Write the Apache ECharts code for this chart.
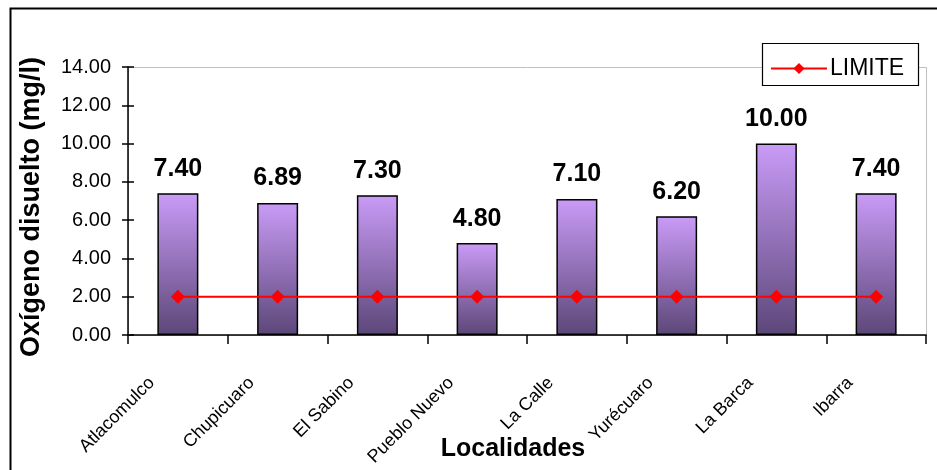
<!DOCTYPE html>
<html><head><meta charset="utf-8">
<script src="https://cdn.jsdelivr.net/npm/echarts@6/dist/echarts.min.js"></script>
<style>html,body{margin:0;padding:0;background:#fff}#c{width:937px;height:470px}</style>
</head><body><div id="c"></div>
<script>
const categories = ["Atlacomulco","Chupicuaro","El Sabino","Pueblo Nuevo","La Calle","Yurécuaro","La Barca","Ibarra"];
const oxygenValues = [7.40, 6.89, 7.30, 4.80, 7.10, 6.20, 10.00, 7.40];
const limitValues = [2, 2, 2, 2, 2, 2, 2, 2];
const yTicks = [0, 2, 4, 6, 8, 10, 12, 14];

const chart = echarts.init(document.getElementById('c'), null, {renderer:'canvas'});
const FONT = 'Liberation Sans, Arial, sans-serif';
chart.setOption({
  animation: false,
  backgroundColor: '#fff',
  graphic: [
    {type:'rect', shape:{x:10.5,y:8.5,width:1000,height:600}, style:{fill:'none',stroke:'#000',lineWidth:2}, z:-10},
    {type:'rect', shape:{x:128.5,y:67.5,width:798,height:268}, style:{fill:'none',stroke:'#c0c0c0',lineWidth:1}, z:-5},
    {type:'rect', shape:{x:762.5,y:43.5,width:156,height:42}, style:{fill:'#fff',stroke:'#000',lineWidth:1.2}, z:50}
  ],
  legend: {
    show: true,
    data: [{name:'LIMITE'}],
    left: 765, top: 52,
    itemWidth: 56, itemHeight: 14, itemGap: 5,
    textStyle: {fontFamily: FONT, fontSize: 23, color:'#000', padding:[0,0,0,-2]},
    z: 60
  },
  grid: {left:128, right: 937-926, top:67, bottom: 470-335, containLabel:false, outerBoundsMode:'none'},
  xAxis: {
    type:'category', data: categories,
    name:'Localidades', nameLocation:'middle', nameGap: 102, nameMoveOverlap:false,
    nameTextStyle:{fontFamily:FONT, fontSize:25, fontWeight:'bold', color:'#000', padding:[0,28,0,0]},
    axisLine:{lineStyle:{color:'#000', width:1.5}},
    axisTick:{show:true, alignWithLabel:false, length:9, inside:false, lineStyle:{color:'#000',width:1.5}},
    axisLabel:{rotate:45, fontFamily:'Liberation Sans Narrow, Liberation Sans, Arial', fontSize:18, color:'#000', margin:19, padding:[0,37,0,0]},
    splitLine:{show:false}
  },
  yAxis: [{
    type:'value', min:0, max:14, interval:2,
    name:'Oxígeno disuelto (mg/l)', nameLocation:'middle', nameGap:83, nameMoveOverlap:false,
    nameTextStyle:{fontFamily:FONT, fontSize:27, fontWeight:'bold', color:'#000', padding:[0,12,0,0]},
    axisLine:{show:true, lineStyle:{color:'#000', width:1.5}},
    axisTick:{show:true, length:6, lineStyle:{color:'#000',width:1.5}},
    axisLabel:{fontFamily:FONT, fontSize:20, color:'#000', margin:17,
      formatter: v => yTicks.includes(v) ? v.toFixed(2) : ''},
    splitLine:{show:false}
  },{
    type:'value', min:0, max:14, interval:2, position:'left',
    axisLine:{show:false},
    axisTick:{show:true, inside:true, length:6, lineStyle:{color:'#000',width:1.5}},
    axisLabel:{show:false},
    splitLine:{show:false}
  }],
  series: [
    {
      name:'Oxígeno', type:'bar', data: oxygenValues, barWidth: 41,
      itemStyle:{
        color: new echarts.graphic.LinearGradient(0,0,0,1,[{offset:0,color:'#C99BF7'},{offset:1,color:'#5C4778'}]),
        borderColor:'#000', borderWidth:1.5
      },
      label:{show:true, position:'top', distance:12, formatter: p => p.value.toFixed(2),
        fontFamily:FONT, fontSize:25, fontWeight:'bold', color:'#000'},
      z: 2
    },
    {
      name:'LIMITE', type:'line', data: limitValues,
      symbol:'diamond', symbolSize:[14,14],
      lineStyle:{color:'#FF0000', width:2},
      itemStyle:{color:'#FF0000'},
      z: 5
    }
  ]
});
</script></body></html>
